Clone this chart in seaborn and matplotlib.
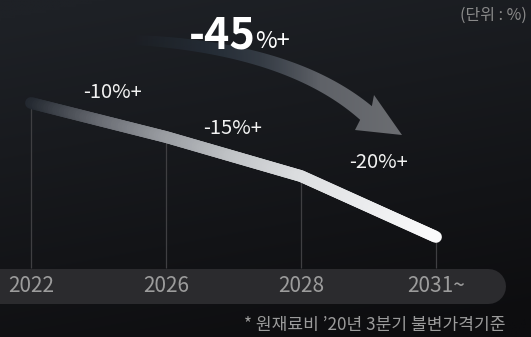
import numpy as np
import pandas as pd
import matplotlib
matplotlib.use('Agg')
import matplotlib.pyplot as plt
import seaborn as sns
from matplotlib.collections import LineCollection
from matplotlib.colors import LinearSegmentedColormap
from matplotlib.patches import Polygon

# Chart data
years = ['2022', '2026', '2028', '2031~']
cost_level = [100, 90, 78.5, 60.6]          # relative raw-material cost, 2022 = 100
step_labels = ['-10%+', '-15%+', '-20%+']
total_big = '-45'
total_small = '%+'
unit_note = '(단위 : %)'
footnote = '* 원재료비 ’20년 3분기 불변가격기준'

sns.set_style('dark')
plt.rcParams['font.family'] = ['Noto Sans CJK KR', 'DejaVu Sans']

W, H = 531, 337
fig = plt.figure(figsize=(W / 100, H / 100), dpi=100)
ax = fig.add_axes([0, 0, 1, 1])

# pixel -> data helpers (layout only)
X0, XS = 31, 135
Y0, YS = 130.29, 3.4
def dx(px):
    return (np.asarray(px, dtype=float) - X0) / XS
def dy(py):
    return Y0 - np.asarray(py, dtype=float) / YS

# Background gradient
yy, xx = np.mgrid[0:1:120j, 0:1:200j]
t = np.clip(0.85 * yy + 0.25 * xx - 0.05, 0, 1)[..., None]
top = np.array([30, 33, 38]) / 255
bot = np.array([13, 13, 15]) / 255
bg = top * (1 - t) + bot * t
ax.imshow(bg, extent=[dx(0), dx(W), dy(H), dy(0)], aspect='auto',
          interpolation='bilinear', zorder=0)

# Main line via seaborn, then redrawn with a gradient
df = pd.DataFrame({'pos': np.arange(len(years)), 'level': cost_level})
sns.lineplot(data=df, x='pos', y='level', ax=ax, color='white', lw=0)
base = ax.lines[-1]
xy = base.get_xydata()
base.set_visible(False)

pts = [np.column_stack([np.linspace(a[0], b[0], 60, endpoint=False),
                        np.linspace(a[1], b[1], 60, endpoint=False)])
       for a, b in zip(xy[:-1], xy[1:])]
pts = np.vstack(pts + [xy[-1:]])
segs = np.stack([pts[:-1], pts[1:]], axis=1)
frac = (pts[:-1, 0] - xy[0, 0]) / (xy[-1, 0] - xy[0, 0])
line_cmap = LinearSegmentedColormap.from_list('ln', [
    (0, '#232830'), (0.18, '#6a6d74'), (0.33, '#989ba0'),
    (0.5, '#c0c3c6'), (0.67, '#dcdee0'), (1, '#fafafb')])
lc = LineCollection(segs, colors=line_cmap(frac), linewidths=8.5,
                    capstyle='round', joinstyle='round', zorder=5)
ax.add_collection(lc)

# Axis band and drop lines
band_y = dy(285.5)
ax.plot([dx(-30), dx(487.5)], [band_y, band_y], color='#2b2b2e', lw=35 * 0.72,
        solid_capstyle='round', zorder=1)
ax.vlines(df['pos'], dy(268), df['level'], colors='#3f3f42', lw=0.9, zorder=2)
for i, yr in enumerate(years):
    ax.text(i, dy(286), yr, ha='center', va='center', color='#9c9c9c',
            fontsize=15, fontweight='light', zorder=6)

# Step labels
lab_px = [(112, 92.5), (232.5, 128.5), (378, 162)]
for (px, py), s in zip(lab_px, step_labels):
    ax.text(dx(px), dy(py), s, ha='center', va='center', color='#f2f2f2',
            fontsize=14.5, fontweight='light', zorder=6)

# Big curved arrow
P0, P1, P2 = np.array([135, 40.]), np.array([290, 48.]), np.array([366, 113.])
tt = np.linspace(0, 1, 80)[:, None]
cen = (1 - tt) ** 2 * P0 + 2 * tt * (1 - tt) * P1 + tt ** 2 * P2
tan = 2 * (1 - tt) * (P1 - P0) + 2 * tt * (P2 - P1)
tan = tan / np.linalg.norm(tan, axis=1, keepdims=True)
nrm = np.column_stack([tan[:, 1], -tan[:, 0]])
half = (5 + 4 * tt)
upper = cen + nrm * half
lower = cen - nrm * half
head = np.array([[374, 95], [402, 135], [355, 130]])
arrow_px = np.vstack([upper, head, lower[::-1]])
arrow = Polygon(np.column_stack([dx(arrow_px[:, 0]), dy(arrow_px[:, 1])]),
                closed=True, fc='none', ec='none', zorder=3)
ax.add_patch(arrow)

gx = np.linspace(130, 405, 200)
stops = np.array([[130, 45, 58, 72, 0.0],
                  [200, 45, 58, 72, 0.45],
                  [260, 60, 68, 78, 0.8],
                  [320, 95, 98, 104, 1.0],
                  [405, 108, 110, 114, 1.0]])
grad = np.column_stack([np.interp(gx, stops[:, 0], stops[:, k]) for k in range(1, 5)])
grad[:, :3] /= 255
grad_img = np.repeat(grad[None, :, :], 2, axis=0)
im = ax.imshow(grad_img, extent=[dx(130), dx(405), dy(140), dy(30)],
               aspect='auto', interpolation='bilinear', zorder=3)
im.set_clip_path(arrow)

# Total label
ax.text(dx(256), dy(48), total_big, ha='right', va='baseline', color='white',
        fontsize=31, fontweight='bold', zorder=6)
ax.text(dx(255), dy(47.5), total_small, ha='left', va='baseline', color='white',
        fontsize=17, fontweight='medium', zorder=6)

# Notes
ax.text(dx(527), dy(15), unit_note, ha='right', va='center', color='#8a8a8a',
        fontsize=11.5, fontweight='light', zorder=6)
ax.text(dx(505), dy(325), footnote, ha='right', va='center', color='#9b9b9b',
        fontsize=12.3, fontweight='light', zorder=6)

ax.set_xlim(dx(0), dx(W))
ax.set_ylim(dy(H), dy(0))
ax.set_axis_off()
fig.savefig('out.png', dpi=100)
